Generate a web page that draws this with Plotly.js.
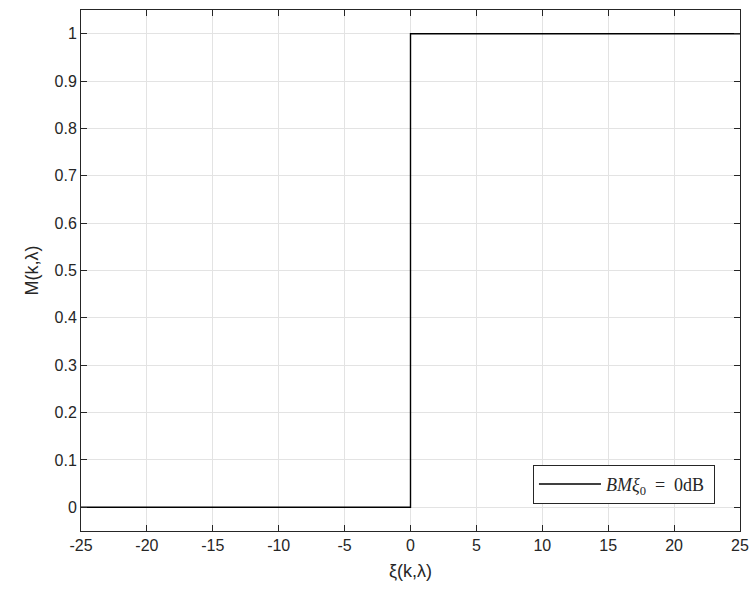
<!DOCTYPE html>
<html>
<head>
<meta charset="utf-8">
<script src="https://cdn.plot.ly/plotly-3.0.1.min.js"></script>
<style>
  html, body { margin: 0; padding: 0; background: #fff; }
  #chart { width: 750px; height: 598px; }
</style>
</head>
<body>
<div id="chart"></div>
<script>
// Binary mask M(k,λ) as a function of the local SNR ξ(k,λ), threshold ξ0 = 0 dB
const xiValues = [-25, 0, 0, 25];
const maskValues = [0, 0, 1, 1];
const seriesName = '<i>BMξ</i><sub>0</sub>  =  0dB ';
const xTicks = [-25, -20, -15, -10, -5, 0, 5, 10, 15, 20, 25];
const yTicks = [0, 0.1, 0.2, 0.3, 0.4, 0.5, 0.6, 0.7, 0.8, 0.9, 1];

const axisColor = '#262626';
const gridColor = '#e3e3e3';
const sansFont = 'Liberation Sans, Arial, sans-serif';

const trace = {
  x: xiValues,
  y: maskValues,
  type: 'scatter',
  mode: 'lines',
  name: seriesName,
  line: { color: '#000000', width: 1.4 }
};

const commonAxis = {
  showline: true,
  mirror: 'ticks',
  linecolor: axisColor,
  linewidth: 1,
  ticks: 'inside',
  ticklen: 6,
  tickcolor: axisColor,
  tickwidth: 1,
  showgrid: true,
  gridcolor: gridColor,
  gridwidth: 1,
  zeroline: false,
  tickfont: { family: sansFont, size: 16, color: axisColor }
};

const layout = {
  width: 750,
  height: 598,
  margin: { l: 81, r: 10, t: 10, b: 67 },
  paper_bgcolor: '#ffffff',
  plot_bgcolor: '#ffffff',
  showlegend: true,
  xaxis: Object.assign({}, commonAxis, {
    range: [-25, 25],
    tickvals: xTicks,
    ticktext: xTicks.map(String),
    title: { text: 'ξ(k,λ)', font: { family: sansFont, size: 18, color: axisColor }, standoff: 11 }
  }),
  yaxis: Object.assign({}, commonAxis, {
    range: [-0.05, 1.05],
    tickvals: yTicks,
    ticktext: yTicks.map(String),
    title: { text: 'M(k,λ)', font: { family: sansFont, size: 18, color: axisColor }, standoff: 11 }
  }),
  legend: {
    x: 0.962,
    y: 0.127,
    xanchor: 'right',
    yanchor: 'top',
    itemwidth: 62,
    bgcolor: '#ffffff',
    bordercolor: axisColor,
    borderwidth: 1,
    font: { family: 'Liberation Serif, Times New Roman, serif', size: 18, color: axisColor }
  }
};

Plotly.newPlot('chart', [trace], layout, { staticPlot: true, displayModeBar: false });
</script>
</body>
</html>
